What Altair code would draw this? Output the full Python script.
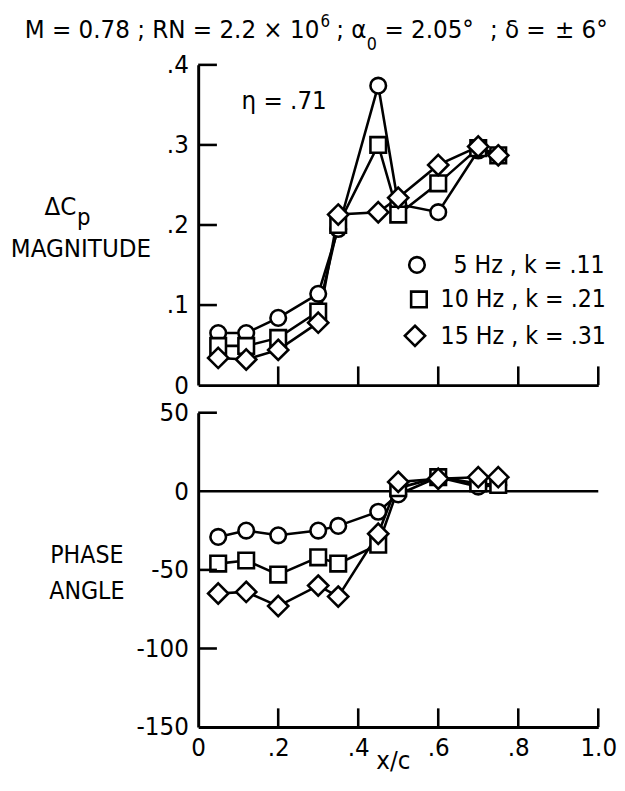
import altair as alt
import pandas as pd

# ---- data ----
xc = [0.05, 0.12, 0.2, 0.3, 0.35, 0.45, 0.5, 0.6, 0.7, 0.75]
series = ["5 Hz , k = .11", "10 Hz , k = .21", "15 Hz , k = .31"]
mag_5 = [0.065, 0.065, 0.084, 0.114, 0.195, 0.374, 0.226, 0.216, 0.293, 0.287]
mag_10 = [0.049, 0.049, 0.059, 0.092, 0.200, 0.300, 0.213, 0.252, 0.296, 0.287]
mag_15 = [0.034, 0.032, 0.044, 0.078, 0.213, 0.216, 0.234, 0.275, 0.298, 0.287]
ph_5 = [-29, -25, -28, -25, -22, -13, -2, 9, 3, 4]
ph_10 = [-46, -44, -53, -42, -46, -34, 2, 9, 5, 4]
ph_15 = [-65, -64, -73, -60, -67, -27, 6, 8, 9, 9]

x_ticks = [0, 0.2, 0.4, 0.6, 0.8, 1.0]
mag_ticks = [0, 0.1, 0.2, 0.3, 0.4]
ph_ticks = [-150, -100, -50, 0, 50]

FONT = "DejaVu Sans Condensed, Liberation Sans Narrow, Arial Narrow, sans-serif"
W = 406
H1 = 325
H2 = 319
LW = 2.6
SIZE = 250
DIAMOND = "M0,-1.3L1.3,0L0,1.3L-1.3,0Z"
SHAPES = ["circle", "square", DIAMOND]

rows = []
for s, m, p in zip(series, [mag_5, mag_10, mag_15], [ph_5, ph_10, ph_15]):
    for i, x in enumerate(xc):
        rows.append({"series": s, "x": x, "mag": m[i], "ph": p[i]})
df = pd.DataFrame(rows)

xscale = alt.Scale(domain=[0, 1], nice=False, zero=False)
shape_scale = alt.Scale(domain=series, range=SHAPES)


def yaxis(values, expr):
    return alt.Axis(values=values, labelExpr=expr, ticks=False, grid=False, title=None,
                    domainWidth=3, domainColor="black", labelFont=FONT, labelFontSize=26,
                    labelColor="black", labelPadding=10, labelFlush=False, labelOverlap=False)


def xaxis(labels):
    return alt.Axis(values=x_ticks, labels=labels, ticks=False, grid=False, title=None,
                    domainWidth=3, domainColor="black", labelFont=FONT, labelFontSize=26,
                    labelColor="black", labelPadding=8, labelFlush=False, labelOverlap=False,
                    labelExpr="datum.value == 0 ? '0' : (datum.value == 1 ? '1.0' : replace(format(datum.value, '.1f'), '0.', '.'))")


def text(t, x, y, size=26, align="left", baseline="middle"):
    return alt.Chart(pd.DataFrame({"t": [t]})).mark_text(
        font=FONT, fontSize=size, color="black", align=align, baseline=baseline
    ).encode(x=alt.value(x), y=alt.value(y), text="t:N")


def symbol(shape, x, y):
    return alt.Chart(pd.DataFrame({"v": [0]})).mark_point(
        filled=False, color="black", fill="white", fillOpacity=1, strokeWidth=LW, size=SIZE, opacity=1
    ).encode(x=alt.value(x), y=alt.value(y), shape=alt.value(shape))


def points(y):
    return alt.Chart(df).mark_point(filled=False, color="black", fill="white", fillOpacity=1,
                                    strokeWidth=LW, size=SIZE, opacity=1).encode(
        x=alt.X("x:Q", scale=xscale), y=y,
        shape=alt.Shape("series:N", scale=shape_scale, legend=None))


# invisible anchor fixing the top-left corner of the drawing
anchor = alt.Chart(pd.DataFrame({"v": [0]})).mark_rule(strokeWidth=1, opacity=0).encode(
    x=alt.value(-192.5), x2=alt.value(-190), y=alt.value(-51.5), y2=alt.value(-49))

# ---- top panel ----
top_x = alt.X("x:Q", scale=xscale, axis=xaxis(False))
top_y = alt.Y("mag:Q", scale=alt.Scale(domain=[0, 0.4], nice=False),
              axis=yaxis(mag_ticks, "datum.value == 0 ? '0' : replace(format(datum.value, '.1f'), '0.', '.')"))

top_lines = alt.Chart(df).mark_line(color="black", strokeWidth=LW).encode(
    x=top_x, y=top_y, detail="series:N", order="x:Q")
top_pts = points(top_y)
top_xt = alt.Chart(pd.DataFrame({"x": x_ticks[1:]})).mark_rule(color="black", strokeWidth=LW).encode(
    x=top_x, y=alt.value(H1), y2=alt.value(H1 - 19))
top_yt = alt.Chart(pd.DataFrame({"mag": mag_ticks[1:]})).mark_rule(color="black", strokeWidth=LW).encode(
    y=top_y, x=alt.value(0), x2=alt.value(19))

legend_layers = []
for (shape, sx, sy, tx), lab in zip([(SHAPES[0], 222, 203, 259), (SHAPES[1], 224, 238, 246),
                                     (SHAPES[2], 220, 275, 246)], series):
    legend_layers.append(symbol(shape, sx, sy))
    legend_layers.append(text(lab, tx, sy, 25))

top = alt.layer(
    anchor, top_lines, top_pts, top_xt, top_yt, *legend_layers,
    text("M = 0.78 ; RN = 2.2 \u00d7 10", -176, -35, 26),
    text("6", 124, -43, 17),
    text("; \u03b1", 140, -35, 26),
    text("0", 171, -20, 18),
    text("= 2.05\u00b0", 189, -35, 26),
    text("; \u03b4 =", 296, -35, 26),
    text("\u00b1 6\u00b0", 362, -35, 26),
    text("\u03b7 = .71", 44, 37, 26),
    text("\u0394C", -156, 152, 26, baseline="alphabetic"),
    text("p", -123, 163, 24, baseline="alphabetic"),
    text("MAGNITUDE", -119, 195, 26, "center", baseline="alphabetic"),
).properties(width=W, height=H1)

# ---- bottom panel ----
bot_x = alt.X("x:Q", scale=xscale, axis=xaxis(True))
bot_y = alt.Y("ph:Q", scale=alt.Scale(domain=[-150, 50], nice=False),
              axis=yaxis(ph_ticks, "'' + datum.value"))

bot_zero = alt.Chart(pd.DataFrame({"ph": [0]})).mark_rule(color="black", strokeWidth=LW).encode(
    y=bot_y, x=alt.value(0), x2=alt.value(W))
bot_lines = alt.Chart(df).mark_line(color="black", strokeWidth=LW).encode(
    x=bot_x, y=bot_y, detail="series:N", order="x:Q")
bot_pts = points(bot_y)
bot_xt = alt.Chart(pd.DataFrame({"x": x_ticks[1:]})).mark_rule(color="black", strokeWidth=LW).encode(
    x=bot_x, y=alt.value(H2), y2=alt.value(H2 - 19))
bot_yt = alt.Chart(pd.DataFrame({"ph": [-100, -50, 50]})).mark_rule(color="black", strokeWidth=LW).encode(
    y=bot_y, x=alt.value(0), x2=alt.value(19))

bottom = alt.layer(
    bot_zero, bot_lines, bot_pts, bot_xt, bot_yt,
    text("PHASE", -113, 152, 25, "center", baseline="alphabetic"),
    text("ANGLE", -113, 189, 25, "center", baseline="alphabetic"),
    text("x/c", 198, 362, 26, "center", baseline="alphabetic"),
).properties(width=W, height=H2)

chart = alt.vconcat(top, bottom, spacing=28, bounds="flush").resolve_scale(
    shape="independent", x="independent", y="independent"
).properties(
    padding=0, background="white",
).configure_view(stroke=None)

chart.save("out.html", embed_options={"renderer": "svg", "actions": False})
